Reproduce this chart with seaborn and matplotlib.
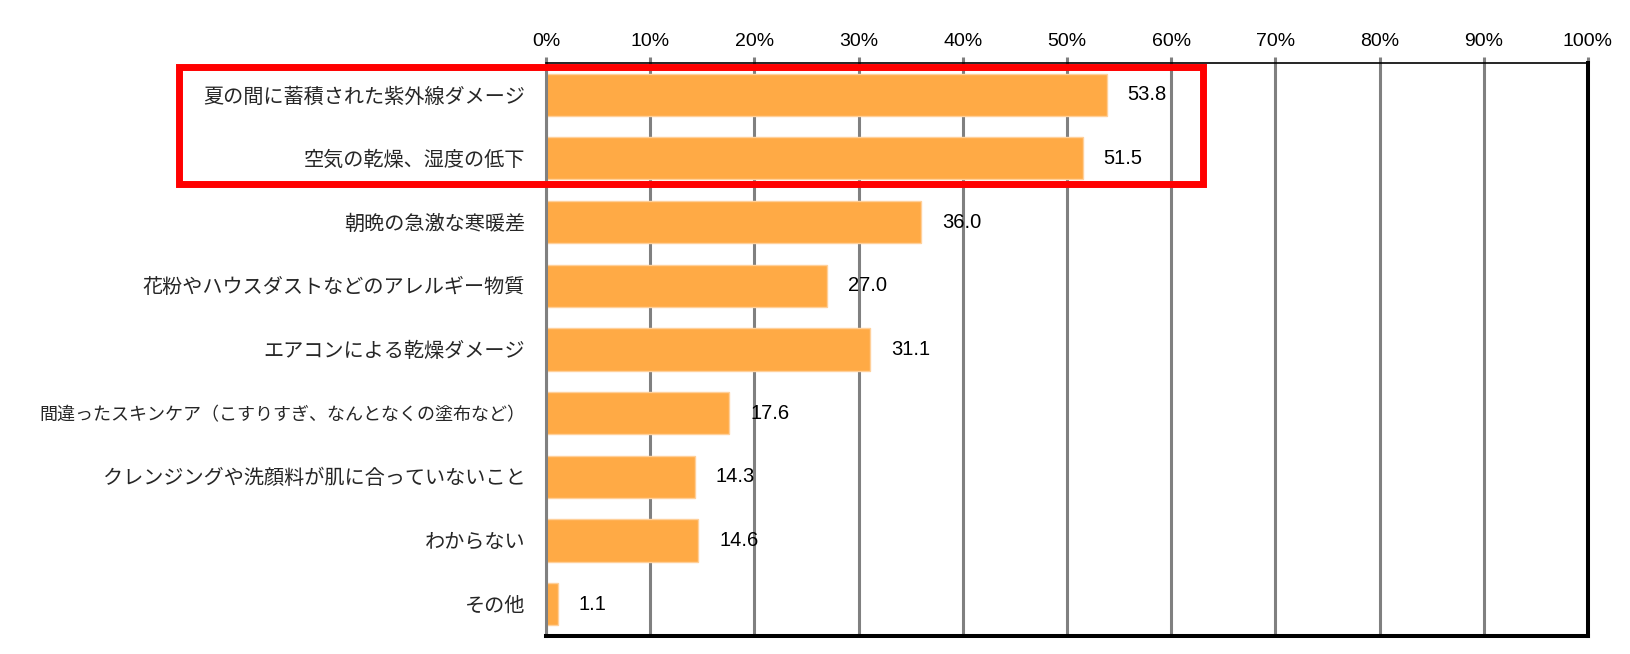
import numpy as np
import pandas as pd
import matplotlib
matplotlib.use('Agg')
import matplotlib.pyplot as plt
import matplotlib.patches as patches
import seaborn as sns

# data (percent)
categories = [
    '夏の間に蓄積された紫外線ダメージ',
    '空気の乾燥、湿度の低下',
    '朝晩の急激な寒暖差',
    '花粉やハウスダストなどのアレルギー物質',
    'エアコンによる乾燥ダメージ',
    '間違ったスキンケア（こすりすぎ、なんとなくの塗布など）',
    'クレンジングや洗顔料が肌に合っていないこと',
    'わからない',
    'その他',
]
values = [53.8, 51.5, 36.0, 27.0, 31.1, 17.6, 14.3, 14.6, 1.1]
xticks = list(range(0, 101, 10))
xtick_labels = [f'{t}%' for t in xticks]

df = pd.DataFrame({'item': categories, 'pct': values})

sns.set_style('white')
plt.rcParams['font.family'] = ['Liberation Sans', 'Noto Sans CJK JP', 'DejaVu Sans']

fig = plt.figure(figsize=(16.31, 6.54), dpi=100)
ax = fig.add_axes([0.3348, 0.0275, 0.9736 - 0.3348, 0.9037 - 0.0275])

sns.barplot(data=df, x='pct', y='item', orient='h', color='#FFAA45',
            saturation=1, width=0.66, edgecolor='#FFD09A', linewidth=1, ax=ax)

ax.set_xlim(0, 100)
ax.set_ylim(len(categories) - 0.5, -0.5)
ax.set_xlabel('')
ax.set_ylabel('')

# x axis on top
ax.xaxis.tick_top()
ax.set_xticks(xticks)
ax.set_xticklabels(xtick_labels, fontsize=14)
ax.tick_params(axis='x', which='major', direction='out', length=4, width=2.2,
               color='#808080', pad=5, labelcolor='black')

# y labels at centres, tick marks at boundaries
ax.set_yticks(np.arange(len(categories)))
ax.set_yticklabels(categories, fontsize=14.5)
for lab in ax.get_yticklabels():
    if len(lab.get_text()) > 22:
        lab.set_fontsize(13)
ax.set_yticks(np.arange(len(categories) + 1) - 0.5, minor=True)
ax.tick_params(axis='y', which='major', length=0, pad=15)
ax.tick_params(axis='y', which='minor', direction='out', length=5, width=2.2,
               color='#808080')

# gridlines
ax.set_axisbelow(True)
ax.grid(axis='x', color='#808080', linewidth=2.2)
ax.grid(axis='y', visible=False)

# spines
ax.spines['left'].set_color('#808080')
ax.spines['left'].set_linewidth(2.2)
ax.spines['bottom'].set_color('black')
ax.spines['bottom'].set_linewidth(2.9)
ax.spines['right'].set_color('black')
ax.spines['right'].set_linewidth(2.9)
ax.spines['top'].set_color('black')
ax.spines['top'].set_linewidth(1.2)
for s in ax.spines.values():
    s.set_zorder(3)

# value labels
for i, v in enumerate(values):
    ax.text(v + 2.0, i, f'{v:.1f}', va='center', ha='left', fontsize=14.5,
            color='black')

# red highlight box around the first two items
rect = patches.Rectangle((-35.2, -0.44), 98.25, 1.84, fill=False,
                         edgecolor='#FF0000', linewidth=5, clip_on=False,
                         zorder=5)
ax.add_patch(rect)

fig.savefig('out.png', dpi=100)
